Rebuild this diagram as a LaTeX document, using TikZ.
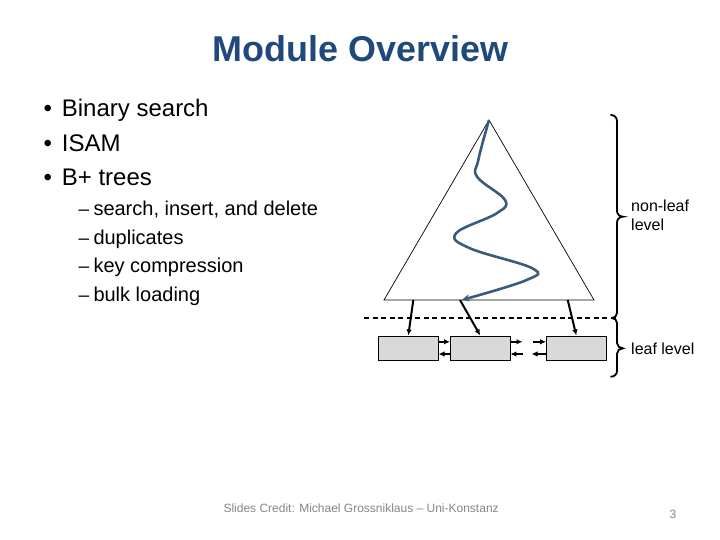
\documentclass[tikz,border=0pt]{standalone}
\usepackage{fontspec}
\setmainfont{Liberation Sans}
\usetikzlibrary{arrows.meta, positioning}
\definecolor{titleblue}{HTML}{1F497D}
\definecolor{pathblue}{HTML}{3B5A7C}
\definecolor{leafgray}{HTML}{D9D9D9}
\definecolor{footgray}{HTML}{858585}

\begin{document}
\begin{tikzpicture}[x=1pt, y=-1pt,
    txt/.style={anchor=base west, inner sep=0pt},
    leafbox/.style={draw, fill=leafgray, minimum width=60pt, minimum height=23.3pt, inner sep=0pt},
    ptr/.style={-{Latex[length=6pt,width=5.5pt]}, line width=2pt},
    bracepath/.style={line width=1.8pt, line cap=round}]
    \useasboundingbox (0,0) rectangle (720,540);
    % title and bullets
    \node[txt, font=\fontsize{35.9}{40}\selectfont\bfseries, text=titleblue] (title) at (212.7,61.7) {Module Overview};
    \node[txt, font=\fontsize{24}{28}\selectfont] (d1) at (43.5,116.7) {•};
    \node[txt, font=\fontsize{24}{28}\selectfont] (d2) at (43.5,151.7) {•};
    \node[txt, font=\fontsize{24}{28}\selectfont] (d3) at (43.5,186) {•};
    \node[txt, font=\fontsize{24}{28}\selectfont] (b1) at (61.7,116.7) {Binary search};
    \node[txt, font=\fontsize{24}{28}\selectfont] (b2) at (61.7,151.7) {ISAM};
    \node[txt, font=\fontsize{24}{28}\selectfont] (b3) at (61.7,186) {B+ trees};
    \node[txt, font=\fontsize{19}{24}\selectfont] (m1) at (78.5,215) {–};
    \node[txt, font=\fontsize{19}{24}\selectfont] (m2) at (78.5,244) {–};
    \node[txt, font=\fontsize{19}{24}\selectfont] (m3) at (78.5,272.7) {–};
    \node[txt, font=\fontsize{19}{24}\selectfont] (m4) at (78.5,301.5) {–};
    \node[txt, font=\fontsize{20}{24}\selectfont] (s1) at (93.3,215) {search, insert, and delete};
    \node[txt, font=\fontsize{20}{24}\selectfont] (s2) at (93.3,244) {duplicates};
    \node[txt, font=\fontsize{20}{24}\selectfont] (s3) at (93.3,272.7) {key compression};
    \node[txt, font=\fontsize{20}{24}\selectfont] (s4) at (93.3,301.5) {bulk loading};

    % the tree
    \coordinate (apex) at (489,120);
    \coordinate (baseL) at (384,300);
    \coordinate (baseR) at (594,300);
    \draw[line width=0.7pt] (apex) -- (baseL) -- (baseR) -- cycle;
    \draw[pathblue, line width=2.6pt, -{Stealth[length=8pt,width=7pt]}]
      plot[smooth, tension=0.65] coordinates {(489,120) (478.3,160) (477.3,177) (505,200) (496.7,213.3)
        (456,233.3) (470,248.3) (532.3,268.3) (526.7,280) (461.7,300)};

    % leaf pages
    \node[leafbox] (leaf1) at (408.3,348.3) {};
    \node[leafbox] (leaf2) at (480.2,348.3) {};
    \node[leafbox] (leaf3) at (576.3,348.3) {};
    \coordinate (p1) at (413.3,300);
    \coordinate (p2) at (460,300);
    \coordinate (p3) at (567.7,300);
    \draw[ptr] (p1) -- ([yshift=1pt]leaf1.north);
    \draw[ptr] (p2) -- ([yshift=1pt]leaf2.north);
    \draw[ptr] (p3) -- ([yshift=1pt]leaf3.north);
    \draw[ptr] ([yshift=6.5pt]leaf1.east) -- ([yshift=6.5pt]leaf2.west);
    \draw[ptr] ([yshift=-5.7pt]leaf2.west) -- ([yshift=-5.7pt]leaf1.east);
    \coordinate (gapA) at (522.5,341.8);
    \coordinate (gapB) at (523,354);
    \coordinate (gapC) at (533,341.8);
    \coordinate (gapD) at (531.5,354);
    \draw[ptr] ([yshift=6.5pt]leaf2.east) -- (gapA);
    \draw[ptr] (gapB) -- ([yshift=-5.7pt]leaf2.east);
    \draw[ptr] (gapC) -- ([yshift=6.5pt]leaf3.west);
    \draw[ptr] ([yshift=-5.7pt]leaf3.west) -- (gapD);

    % level split
    \coordinate (dashL) at (364,318);
    \coordinate (dashR) at (617,318);
    \draw[dash pattern=on 5pt off 3.5pt, line width=1.6pt] (dashL) -- (dashR);
    \draw[bracepath] (611,115) to[out=0,in=90] (617,121) -- (617,211)
      to[out=-90,in=180] (623,216.7) to[out=180,in=90] (617,222.4) -- (617,313) to[out=-90,in=0] (612,318);
    \draw[bracepath] (612,318) to[out=0,in=90] (617,323) -- (617,343)
      to[out=-90,in=180] (623,348.3) to[out=180,in=90] (617,353.6) -- (617,371) to[out=-90,in=0] (611,376.7);
    \node[txt, font=\fontsize{16}{18}\selectfont] (lab1) at (631,211.7) {non-leaf};
    \node[txt, font=\fontsize{16}{18}\selectfont] (lab2) at (631,230) {level};
    \node[txt, font=\fontsize{16}{18}\selectfont] (lab3) at (631,354) {leaf level};

    % footer
    \node[txt, font=\fontsize{12}{14}\selectfont, text=footgray] (credit) at (223.3,512.7) {Slides Credit: Michael Grossniklaus – Uni-Konstanz};
    \node[txt, font=\fontsize{12}{14}\selectfont, text=footgray] (pagenum) at (669.5,518.5) {3};
\end{tikzpicture}
\end{document}
